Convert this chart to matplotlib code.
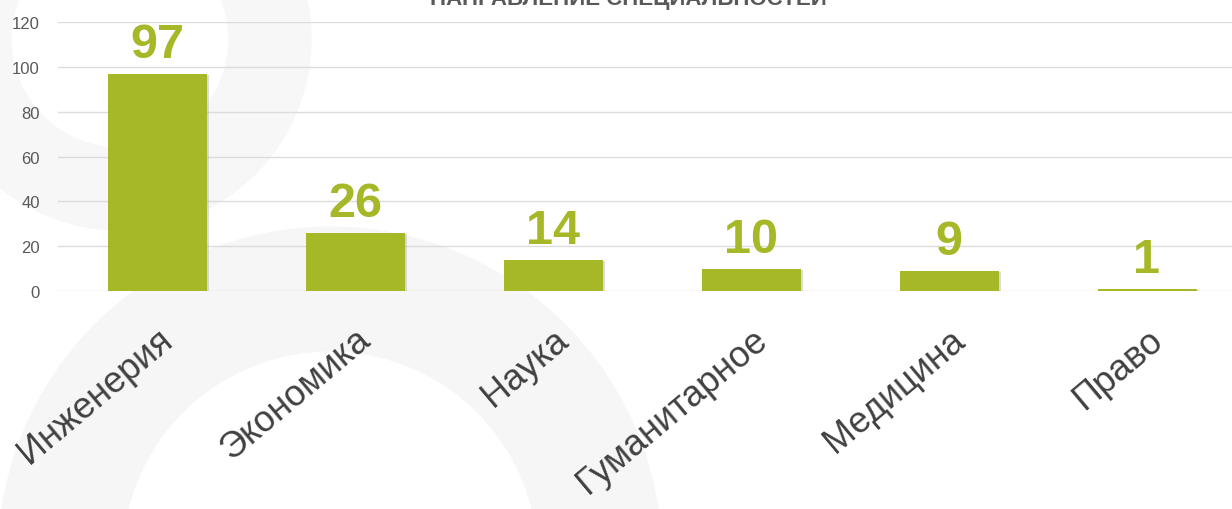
import matplotlib.pyplot as plt
import matplotlib.patheffects as pe
from matplotlib.patches import Circle

# ----------------------------
# Data
# ----------------------------
categories = ["Инженерия", "Экономика", "Наука", "Гуманитарное", "Медицина", "Право"]
values = [97, 26, 14, 10, 9, 1]

plt.rcParams['font.family'] = ['Liberation Sans', 'DejaVu Sans']

fig = plt.figure(figsize=(12.32, 5.1), dpi=100)
fig.patch.set_facecolor("white")

# faint background watermark
bg = fig.add_axes([0, 0, 1, 1], zorder=0)
bg.set_xlim(0, 1232)
bg.set_ylim(510, 0)
bg.axis("off")
bg.add_patch(Circle((330, 560), 270, facecolor="none", edgecolor="#f6f6f6", linewidth=90))
bg.add_patch(Circle((120, 40), 150, facecolor="none", edgecolor="#f7f7f7", linewidth=60))

ax = fig.add_axes([58 / 1232, (510 - 292) / 510, 1188 / 1232, 269 / 510], zorder=1)
ax.patch.set_alpha(0)

x = list(range(len(categories)))
bars = ax.bar(x, values, width=0.5, color="#a6b828", zorder=3,
              path_effects=[pe.SimplePatchShadow(offset=(2, -1), shadow_rgbFace="#b0b0b0", alpha=0.45), pe.Normal()])

for xi, v in zip(x, values):
    ax.annotate(str(v), (xi, v), xytext=(0, 5), textcoords="offset points",
                ha="center", va="bottom", fontsize=35, fontweight="bold", color="#a6b828")

ax.set_xlim(-0.5, 5.5)
ax.set_ylim(0, 120)
ax.set_yticks(range(0, 121, 20))
ax.yaxis.grid(True, color="#dcdcdc", linewidth=1, zorder=0)
ax.set_axisbelow(True)
for s in ax.spines.values():
    s.set_visible(False)
ax.tick_params(axis="y", length=0, labelsize=12, labelcolor="#595959", pad=13)
ax.tick_params(axis="x", length=0, pad=22)
ax.set_xticks(x)
ax.set_xticklabels(categories, rotation=40, ha="right", rotation_mode="anchor",
                   fontsize=26, color="#404040")

fig.text(0.51, 1 - 5 / 510, "НАПРАВЛЕНИЕ СПЕЦИАЛЬНОСТЕЙ", ha="center", va="baseline",
         fontsize=16, fontweight="bold", color="#595959")

fig.savefig("out.png", dpi=100)
